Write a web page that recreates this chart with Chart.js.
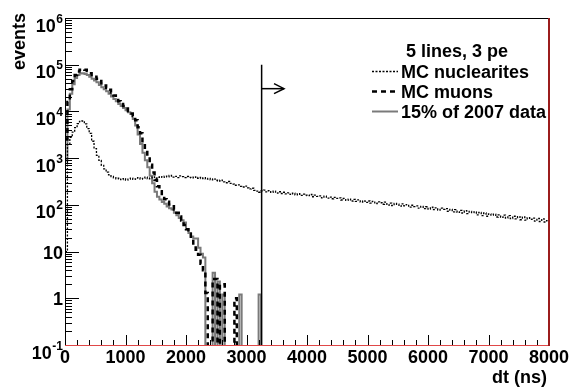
<!DOCTYPE html>
<html>
<head>
<meta charset="utf-8">
<script src="https://cdn.jsdelivr.net/npm/chart.js@4.4.0/dist/chart.umd.min.js"></script>
<style>
  html, body { margin: 0; padding: 0; background: #fff; }
  #wrap { width: 571px; height: 387px; }
</style>
</head>
<body>
<div id="wrap"><canvas id="dtChart" width="571" height="387"></canvas></div>
<script>
    // histogram bins, 40 ns wide, starting at dt = 0
    const binWidth = 40;

    const nuclearites = [
        10, 2000, 2800, 3600, 4500, 5500, 6100, 6300, 5400, 4300,
        3400, 2300, 1600, 1150, 900, 700, 590, 500, 440, 405,
        380, 362, 371, 348, 366, 340, 357, 375, 352, 361,
        383, 356, 369, 392, 360, 377, 398, 371, 389, 404,
        386, 412, 397, 425, 391, 409, 383, 416, 401, 384,
        405, 389, 377, 398, 371, 386, 366, 381, 356, 368,
        344, 361, 336, 322, 339, 309, 297, 316, 288, 279,
        263, 268, 249, 241, 253, 231, 219, 227, 204, 197,
        186, 199, 207, 190, 201, 185, 196, 179, 191, 175,
        186, 171, 181, 167, 177, 163, 173, 159, 169, 161,
        157, 167, 149, 161, 152, 156, 141, 153, 139, 147,
        135, 145, 138, 141, 127, 137, 125, 133, 121, 131,
        119, 128, 115, 122, 113, 121, 109, 119, 107, 116,
        111, 103, 114, 99, 109, 97, 107, 103, 94, 105,
        95, 101, 89, 98, 92, 95, 85, 93, 83, 91,
        81, 89, 79, 86, 77, 85, 80, 83, 73, 80,
        71, 79, 69, 76, 67, 75, 65, 72, 68, 71,
        61, 69, 59, 67, 57, 64, 60, 63, 55, 61,
        54, 60, 52, 59, 51, 57, 50, 56, 48, 55,
        47, 53, 49, 52, 45, 51, 44, 50, 43, 46
    ];

    const muons = [
        2500, 16000, 30000, 45000, 60000, 72000, 78000, 80000, 78000, 73000,
        66000, 60000, 55000, 50000, 45000, 40000, 36000, 32000, 29000, 25500,
        22000, 19000, 16500, 14500, 13000, 11500, 10200, 9000, 8000, 6500,
        4600, 3400, 2300, 1550, 1050, 720, 490, 340, 250, 195,
        160, 132, 116, 102, 93, 80, 68, 56, 46, 37,
        30, 24, 18, 14, 11, 8.5, 5.5, 4, 1.3, 0,
        0, 2.6, 2.6, 0, 2, 2, 0, 0, 0, 0,
        1
    ];

    const data2007 = [
        900, 11000, 24000, 38000, 52000, 60000, 65000, 66000, 63000, 60000,
        55000, 50000, 46000, 42000, 37000, 33000, 30000, 27000, 24000, 21000,
        18500, 16500, 14500, 13000, 11800, 10600, 9600, 8800, 6900, 5000,
        3200, 2000, 1300, 900, 640, 420, 290, 190, 150, 130,
        115, 105, 92, 85, 80, 68, 60, 52, 47, 42,
        30, 25, 21, 19, 19, 12, 9, 7.5, 0, 0,
        0, 3.5, 0, 2.3, 0, 1.2, 0, 0, 0, 0,
        0, 0, 1.2, 0, 0, 0, 0, 0, 0, 0,
        1.2
    ];

    const xTickLabels = ['0', '1000', '2000', '3000', '4000', '5000', '6000', '7000', '8000'];
    const yDecades = [-1, 0, 1, 2, 3, 4, 5, 6];

    // selection cut: dt > 3250 ns
    const cutX = 3250;
    const cutTop = 1e5;
    const arrowY = 30700;
    const arrowTip = 3620;

    // empty bins: the log axis drops zeros, so send them below the axis (clipped)
    const FLOOR = 0.001;
    const FONT = '"Liberation Sans", Arial, Helvetica, sans-serif';

    function toSteps(values) {
        const pts = values.map((v, i) => ({ x: i * binWidth, y: v > 0 ? v : FLOOR }));
        pts.push({ x: values.length * binWidth, y: FLOOR });
        return pts;
    }

    const histStyle = { pointRadius: 0, stepped: true, fill: false, tension: 0 };
    const cutStyle = { pointRadius: 0, stepped: false, fill: false, borderColor: '#000', borderWidth: 1.5, legend: false };

    const datasets = [
        Object.assign({ label: 'MC nuclearites', data: toSteps(nuclearites), borderColor: '#000', borderWidth: 1.3, borderDash: [2, 1.5], order: 1 }, histStyle),
        Object.assign({ label: 'MC muons', data: toSteps(muons), borderColor: '#000', borderWidth: 2.5, borderDash: [5, 4], order: 2 }, histStyle),
        Object.assign({ label: '15% of 2007 data', data: toSteps(data2007), borderColor: '#7a7a7a', borderWidth: 2, order: 3 }, histStyle),
        Object.assign({ label: 'cut', data: [{ x: cutX, y: cutTop }, { x: cutX, y: FLOOR }], order: 0 }, cutStyle),
        Object.assign({ label: 'arrow', data: [{ x: cutX, y: arrowY }, { x: arrowTip, y: arrowY }], order: 0 }, cutStyle),
        Object.assign({ label: 'head', data: [{ x: arrowTip - 165, y: arrowY * 1.28 }, { x: arrowTip, y: arrowY }, { x: arrowTip - 165, y: arrowY / 1.28 }], order: 0 }, cutStyle)
    ];

    function line(ctx, x1, y1, x2, y2) {
        ctx.beginPath();
        ctx.moveTo(x1, y1);
        ctx.lineTo(x2, y2);
        ctx.stroke();
    }

    const rootFrame = {
        id: 'rootFrame',
        afterDraw(chart) {
            const { ctx, chartArea: a, scales } = chart;
            const x = scales.x, y = scales.y;
            ctx.save();
            ctx.setLineDash([]);
            ctx.globalAlpha = 1;
            ctx.lineCap = 'butt';

            // ticks
            ctx.strokeStyle = '#000000';
            ctx.lineWidth = 1;
            for (let v = 0; v <= 8000; v += 200) {
                const px = Math.round(x.getPixelForValue(v)) + 0.5;
                const len = v % 1000 === 0 ? 10 : 5;
                line(ctx, px, a.bottom, px, a.bottom - len);
            }
            yDecades.forEach(d => {
                const py = Math.round(y.getPixelForValue(Math.pow(10, d))) + 0.5;
                line(ctx, a.left, py, a.left + 14, py);
                if (d < 6) {
                    for (let k = 2; k <= 9; k++) {
                        const pm = Math.round(y.getPixelForValue(k * Math.pow(10, d))) + 0.5;
                        line(ctx, a.left, pm, a.left + 7, pm);
                    }
                }
            });

            // frame
            line(ctx, a.left + 0.5, a.bottom, a.left + 0.5, a.top + 0.5);
            line(ctx, a.left, a.top + 0.5, a.right, a.top + 0.5);
            ctx.strokeStyle = '#e04848';
            line(ctx, a.left, a.bottom + 0.5, a.right, a.bottom + 0.5);
            ctx.strokeStyle = '#9b1c1c';
            ctx.lineWidth = 2;
            line(ctx, a.right, a.top, a.right, a.bottom + 1);

            ctx.fillStyle = '#000';

            // x labels
            ctx.font = 'bold 18px ' + FONT;
            ctx.textAlign = 'center';
            ctx.textBaseline = 'alphabetic';
            xTickLabels.forEach(t => {
                ctx.fillText(t, x.getPixelForValue(Number(t)), 362.5);
            });
            ctx.textAlign = 'right';
            ctx.fillText('dt (ns)', 547, 383);

            // y labels
            yDecades.forEach(d => {
                const py = y.getPixelForValue(Math.pow(10, d));
                const right = 63;
                if (d === 0 || d === 1) {
                    ctx.font = 'bold 18px ' + FONT;
                    ctx.textAlign = 'right';
                    ctx.fillText(d === 0 ? '1' : '10', right, py + 7);
                } else {
                    const exp = String(d);
                    ctx.font = 'bold 12px ' + FONT;
                    const ew = ctx.measureText(exp).width;
                    ctx.textAlign = 'right';
                    ctx.fillText(exp, right, py + 4.5);
                    ctx.font = 'bold 18px ' + FONT;
                    ctx.fillText('10', right - ew - 0.5, py + 13.5);
                }
            });

            // y title
            ctx.save();
            ctx.translate(25, 13);
            ctx.rotate(-Math.PI / 2);
            ctx.font = 'bold 18px ' + FONT;
            ctx.textAlign = 'right';
            ctx.fillText('events', 0, 0);
            ctx.restore();

            // legend
            ctx.font = 'bold 18px ' + FONT;
            ctx.textAlign = 'left';
            ctx.fillText('5 lines, 3 pe', 406, 57);
            const rows = [71, 91, 111];
            chart.data.datasets.filter(ds => ds.legend !== false).forEach((ds, i) => {
                const cy = rows[i];
                ctx.save();
                ctx.strokeStyle = ds.borderColor;
                ctx.lineWidth = ds.borderWidth;
                ctx.setLineDash(ds.borderDash || []);
                line(ctx, 372, cy + 0.5, 398, cy + 0.5);
                ctx.restore();
                ctx.fillText(ds.label, 401, cy + 6.5);
            });

            ctx.restore();
        }
    };

    const ctx = document.getElementById('dtChart').getContext('2d');

    const config = {
        type: 'line',
        data: { datasets: datasets },
        options: {
            responsive: false,
            animation: false,
            devicePixelRatio: 1,
            layout: { padding: { left: 65, right: 22, top: 18, bottom: 42 } },
            plugins: { legend: { display: false }, tooltip: { enabled: false } },
            scales: {
                x: {
                    type: 'linear', min: 0, max: 8000,
                    ticks: { display: false }, grid: { display: false }, border: { display: false },
                    afterFit: s => { s.height = 0; }
                },
                y: {
                    type: 'logarithmic', min: 0.1, max: 1e6,
                    ticks: { display: false }, grid: { display: false }, border: { display: false },
                    afterFit: s => { s.width = 0; }
                }
            }
        },
        plugins: [rootFrame]
    };

    const dtChart = new Chart(ctx, config);
</script>
</body>
</html>
